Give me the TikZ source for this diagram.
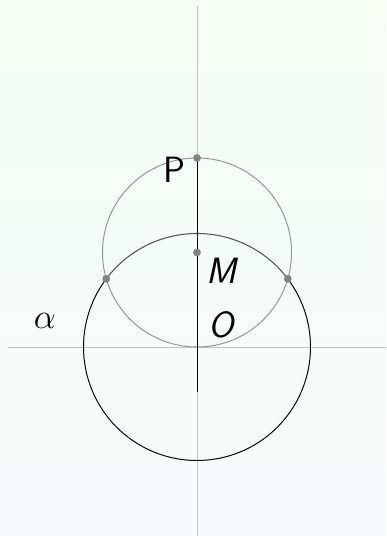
\documentclass[tikz,border=0pt]{standalone}
\usepackage{amsmath,amssymb}
\usepackage{xcolor}
\usepackage{tikz}
\usetikzlibrary{calc}
\definecolor{bgtop}{RGB}{245,255,243}
\definecolor{bgbot}{RGB}{246,251,254}
\definecolor{gaxis}{RGB}{196,196,196}
\definecolor{gcirc}{RGB}{150,150,150}
\definecolor{gback}{RGB}{85,85,85}
\definecolor{gdot}{RGB}{130,130,130}
\tikzset{
  axis/.style  ={draw=gaxis, line width=0.7pt},
  thin circ/.style ={draw=gcirc, line width=0.7pt},
  main/.style  ={draw=black, line width=0.7pt},
  back/.style  ={draw=gback, line width=0.75pt},
  pt/.style    ={circle, fill=gdot, inner sep=0pt, minimum size=5.5pt},
  lbl/.style   ={font=\fontsize{26}{28}\selectfont\sffamily\itshape},
  ulbl/.style  ={font=\fontsize{26}{28}\selectfont\sffamily}
}

\begin{document}
\begin{tikzpicture}[x=0.025cm,y=0.025cm]
% background and frame
\fill[top color=bgtop, bottom color=bgbot] (-197,-189) rectangle (189,347);
\useasboundingbox (-197,-189) rectangle (189,347);

\coordinate (O) at (0,0);
\coordinate (M) at (0,94.5);
\coordinate (P) at (0,189);
\coordinate (A) at (143.1:113.5);
\coordinate (B) at (36.9:113.5);
\coordinate (top) at (0,341);
\coordinate (bot) at (0,-189);
\coordinate (west) at (-189,0);
\coordinate (east) at (189,0);
\coordinate (foot) at (0,-45);

% axes
\draw[axis] (bot) -- (top);
\draw[axis] (west) -- (east);

% circles
\draw[thin circ] (M) circle[radius=94.5];
\draw[back] (B) arc[start angle=36.9, end angle=143.1, radius=113.5];
\draw[main] (A) arc[start angle=143.1, end angle=396.9, radius=113.5];
\draw[main] (P) -- (foot);

% points
\node[pt] (p) at (P) {};
\node[pt] (m) at (M) {};
\node[pt] (a) at (A) {};
\node[pt] (b) at (B) {};

% labels
\node[ulbl] (lP) at (-23,177) {P};
\node[lbl]  (lM) at (24,76) {M};
\node[lbl]  (lO) at (24,22) {O};
\node[font=\fontsize{26}{28}\selectfont] (alpha) at (-152,26) {$\alpha$};
\end{tikzpicture}
\end{document}
